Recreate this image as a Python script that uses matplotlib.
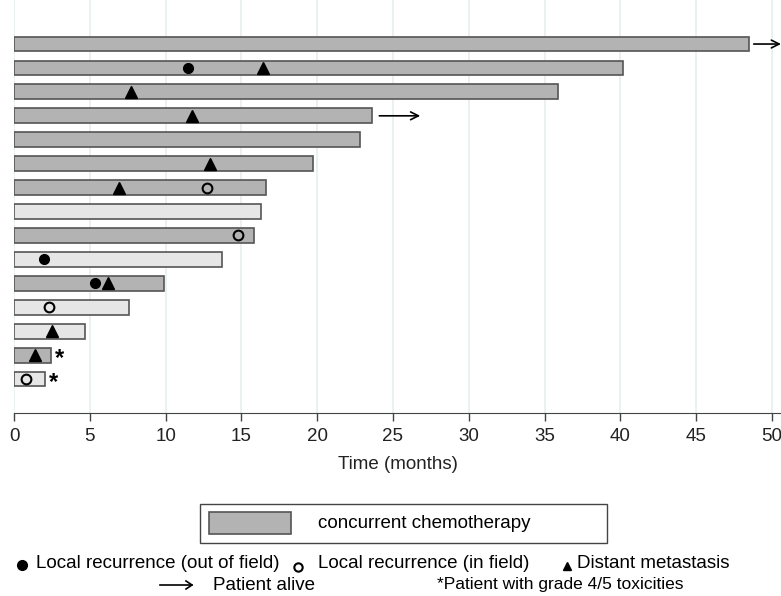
import matplotlib.pyplot as plt
from matplotlib.lines import Line2D
from matplotlib.patches import Rectangle

plt.rcParams['font.family'] = ['Liberation Sans', 'DejaVu Sans']

# one row per patient, top to bottom
durations = [48.5, 40.2, 35.9, 23.6, 22.8, 19.7, 16.6, 16.3, 15.85, 13.7, 9.9, 7.6, 4.7, 2.45, 2.05]
chemo = [1, 1, 1, 1, 1, 1, 1, 0, 1, 0, 1, 0, 0, 1, 0]

# events: (row, time)
out_field_rows = [2, 10, 11]
out_field_times = [11.5, 2.0, 5.35]
in_field_rows = [7, 9, 12, 15]
in_field_times = [12.7, 14.8, 2.3, 0.8]
meta_rows = [2, 3, 4, 6, 7, 11, 13, 14]
meta_times = [16.4, 7.7, 11.75, 12.95, 6.9, 6.2, 2.5, 1.4]

alive_rows = [1, 4]
alive_start = [48.8, 24.1]
alive_end = [50.6, 26.8]

tox_rows = [14, 15]
tox_times = [3.0, 2.6]

dark = '#b3b3b3'
light = '#e6e6e6'
fs = 13.5

fig = plt.figure(figsize=(7.81, 5.96), dpi=100)
ax = fig.add_axes([14 / 781, 1 - 413 / 596, 1 - 14 / 781, 413 / 596])

rows = list(range(1, len(durations) + 1))
ax.barh(rows, durations, height=0.62, left=0,
        color=[dark if c else light for c in chemo],
        edgecolor='#555555', linewidth=1.2, zorder=2)

ax.plot(out_field_times, out_field_rows, 'o', color='black', ms=7, zorder=3)
ax.plot(in_field_times, in_field_rows, 'o', mfc='none', mec='black', mew=1.5, ms=7, zorder=3)
ax.plot(meta_times, meta_rows, '^', color='black', ms=8, zorder=3)

for r, s, e in zip(alive_rows, alive_start, alive_end):
    ax.annotate('', xy=(e, r), xytext=(s, r), annotation_clip=False,
                arrowprops=dict(arrowstyle='->', color='black', lw=1.2,
                                shrinkA=0, shrinkB=0, mutation_scale=14))

for r, t in zip(tox_rows, tox_times):
    ax.text(t, r + 0.15, '*', fontsize=17, fontweight='bold', ha='center', va='center')

ax.set_xlim(0, 50.6)
ax.set_ylim(16.42, -0.84)
ax.set_xticks(range(0, 51, 5))
ax.tick_params(axis='x', labelsize=fs, length=6, width=1, color='#444444', labelcolor='#222222', pad=5)
ax.set_yticks([])
for side in ['left', 'right', 'top']:
    ax.spines[side].set_visible(False)
ax.spines['bottom'].set_color('#444444')
ax.grid(axis='x', color='#e6eff1', lw=1.2, zorder=0)
ax.set_axisbelow(True)
ax.set_xlabel('Time (months)', fontsize=fs, labelpad=8, color='#222222')

# legend drawn in figure pixels
def fx(px):
    return px / 781

def fy(py):
    return 1 - py / 596

fig.add_artist(Rectangle((fx(200), fy(543)), fx(607) - fx(200), fy(504) - fy(543),
                         transform=fig.transFigure, fill=False, ec='#444444', lw=1))
fig.add_artist(Rectangle((fx(209), fy(534)), fx(291) - fx(209), fy(512) - fy(534),
                         transform=fig.transFigure, fc=dark, ec='#555555', lw=1.2))
fig.text(fx(318), fy(523), 'concurrent chemotherapy', fontsize=fs, va='center')

fig.add_artist(Line2D([fx(22)], [fy(565)], marker='o', color='black', ms=7, transform=fig.transFigure))
fig.text(fx(36), fy(563), 'Local recurrence (out of field)', fontsize=fs, va='center')
fig.add_artist(Line2D([fx(298)], [fy(567)], marker='o', mfc='none', mec='black', mew=1.5, ms=6,
                      transform=fig.transFigure))
fig.text(fx(318), fy(563), 'Local recurrence (in field)', fontsize=fs, va='center')
fig.add_artist(Line2D([fx(567)], [fy(566)], marker='^', color='black', ms=6, transform=fig.transFigure))
fig.text(fx(577), fy(563), 'Distant metastasis', fontsize=fs, va='center')

fig.add_artist(Line2D([fx(160), fx(192)], [fy(585), fy(585)], color='black', lw=1.2,
                      transform=fig.transFigure))
fig.add_artist(Line2D([fx(186), fx(192), fx(186)], [fy(581), fy(585), fy(589)], color='black', lw=1.2,
                      transform=fig.transFigure))
fig.text(fx(213), fy(585), 'Patient alive', fontsize=fs, va='center')
fig.text(fx(560), fy(585), '*Patient with grade 4/5 toxicities', fontsize=12.5, va='center', ha='center')

fig.savefig('out.png', dpi=100)
